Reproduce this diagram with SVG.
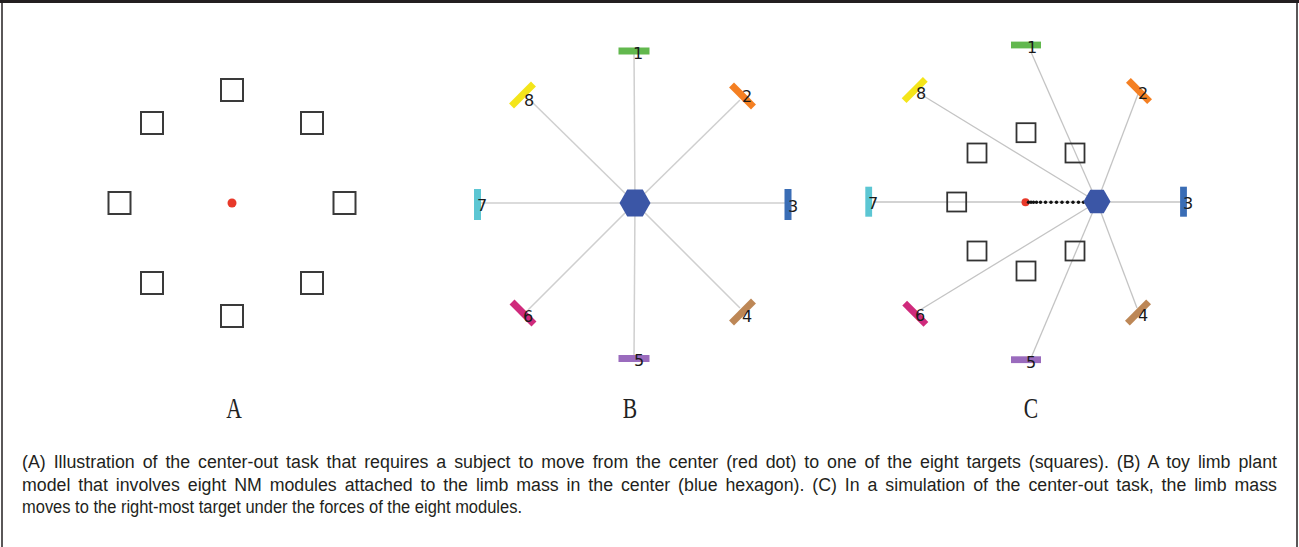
<svg xmlns="http://www.w3.org/2000/svg" width="1299" height="547" viewBox="0 0 1299 547">
<style>
.sq{fill:none;stroke:#3a3a3a;stroke-width:2}
.sqc{fill:none;stroke:#333;stroke-width:1.8}
.ln{stroke:#cfcfcf;stroke-width:1.5;fill:none}
.lnc{stroke:#c4c4c4;stroke-width:1.3;fill:none}
.hex{fill:#3b56a6}
.num{font-family:"DejaVu Sans",sans-serif;font-size:16px;fill:#1a1a1a;text-anchor:middle}
.pl{font-family:"Liberation Serif",serif;font-size:30px;fill:#222;text-anchor:middle}
.cap{font-family:"Liberation Sans Narrow","Liberation Sans",Arial,sans-serif;font-size:18px;fill:#231f20}
.just{word-spacing:3px}
.c1{fill:#62b84e}.c2{fill:#f47f22}.c3{fill:#3a6db5}.c4{fill:#bd8756}
.c5{fill:#9a6bbd}.c6{fill:#cf2a7c}.c7{fill:#5cc6d3}.c8{fill:#f4e51a}
.red{fill:#e8392a}
.dot{fill:#111}
</style>
<defs>
<rect id="bar" x="-15.5" y="-3.5" width="31" height="7"/>
<rect id="barc" x="-15" y="-3.4" width="30" height="6.8"/>
<rect id="sqA" x="-11" y="-11" width="22" height="22"/>
<rect id="sqC" x="-9.5" y="-9.5" width="19" height="19"/>
</defs>

<!-- frame -->
<rect x="0" y="0" width="1299" height="3" fill="#231f20"/>
<line x1="2" y1="0" x2="2" y2="547" stroke="#231f20" stroke-width="1.5"/>
<line x1="1297" y1="0" x2="1297" y2="547" stroke="#231f20" stroke-width="1.5"/>

<!-- Panel A -->
<g id="panelA">
<use href="#sqA" class="sq" x="232" y="90"/>
<use href="#sqA" class="sq" x="312" y="123"/>
<use href="#sqA" class="sq" x="344.5" y="203"/>
<use href="#sqA" class="sq" x="312" y="283"/>
<use href="#sqA" class="sq" x="232" y="316"/>
<use href="#sqA" class="sq" x="152" y="283"/>
<use href="#sqA" class="sq" x="119.5" y="203"/>
<use href="#sqA" class="sq" x="152" y="123"/>
<circle class="red" cx="232" cy="203" r="4.5"/>
</g>

<!-- connectors -->
<g id="connectors">
<line class="ln" x1="635" y1="203" x2="634" y2="53"/>
<line class="ln" x1="635" y1="203" x2="740" y2="100"/>
<line class="ln" x1="635" y1="203" x2="788" y2="203"/>
<line class="ln" x1="635" y1="203" x2="740" y2="308"/>
<line class="ln" x1="635" y1="203" x2="634" y2="357"/>
<line class="ln" x1="635" y1="203" x2="528" y2="310"/>
<line class="ln" x1="635" y1="203" x2="480" y2="203"/>
<line class="ln" x1="635" y1="203" x2="531" y2="101"/>

<line class="lnc" x1="1097" y1="202" x2="1031" y2="52"/>
<line class="lnc" x1="1097" y1="202" x2="1138" y2="94"/>
<line class="lnc" x1="1097" y1="202" x2="1184" y2="202"/>
<line class="lnc" x1="1097" y1="202" x2="1137" y2="308"/>
<line class="lnc" x1="1097" y1="202" x2="1031" y2="358"/>
<line class="lnc" x1="1097" y1="202" x2="920" y2="310"/>
<line class="lnc" x1="1097" y1="202" x2="873" y2="202"/>
<line class="lnc" x1="1097" y1="202" x2="922" y2="95"/>
</g>

<!-- Panel B -->
<g id="B-hex"><polygon class="hex" points="650.5,203 642.75,216.4 627.25,216.4 619.5,203 627.25,189.6 642.75,189.6"/></g>
<g id="B-m1"><use href="#bar" class="c1" transform="translate(634,51)"/><text class="num" x="638" y="59">1</text></g>
<g id="B-m2"><use href="#bar" class="c2" transform="translate(742.5,96) rotate(45)"/><text class="num" x="747" y="102">2</text></g>
<g id="B-m3"><use href="#bar" class="c3" transform="translate(788,204.5) rotate(90)"/><text class="num" x="793" y="212">3</text></g>
<g id="B-m4"><use href="#bar" class="c4" transform="translate(742.5,312) rotate(-45)"/><text class="num" x="747" y="322">4</text></g>
<g id="B-m5"><use href="#bar" class="c5" transform="translate(634,358.5)"/><text class="num" x="639" y="366">5</text></g>
<g id="B-m6"><use href="#bar" class="c6" transform="translate(523,313) rotate(45)"/><text class="num" x="528" y="322">6</text></g>
<g id="B-m7"><use href="#bar" class="c7" transform="translate(477.5,204.5) rotate(90)"/><text class="num" x="482" y="211">7</text></g>
<g id="B-m8"><use href="#bar" class="c8" transform="translate(522.5,95) rotate(-45)"/><text class="num" x="529" y="106">8</text></g>

<!-- Panel C -->
<g id="C-targets">
<use href="#sqC" class="sqc" x="1026" y="132.7"/>
<use href="#sqC" class="sqc" x="977" y="153"/>
<use href="#sqC" class="sqc" x="1075" y="153"/>
<use href="#sqC" class="sqc" x="956.7" y="202"/>
<use href="#sqC" class="sqc" x="977" y="251"/>
<use href="#sqC" class="sqc" x="1075" y="251"/>
<use href="#sqC" class="sqc" x="1026" y="271"/>
</g>
<g id="C-trajectory">
<circle class="red" cx="1025.5" cy="202.3" r="4"/>
<circle class="dot" cx="1028.5" cy="202.3" r="1.7"/>
<circle class="dot" cx="1031" cy="202.3" r="1.7"/>
<circle class="dot" cx="1033.5" cy="202.3" r="1.7"/>
<circle class="dot" cx="1036.5" cy="202.3" r="1.7"/>
<circle class="dot" cx="1040.5" cy="202.3" r="1.7"/>
<circle class="dot" cx="1045.5" cy="202.3" r="1.7"/>
<circle class="dot" cx="1051" cy="202.3" r="1.7"/>
<circle class="dot" cx="1056.5" cy="202.3" r="1.7"/>
<circle class="dot" cx="1062" cy="202.3" r="1.7"/>
<circle class="dot" cx="1067.5" cy="202.3" r="1.7"/>
<circle class="dot" cx="1073" cy="202.3" r="1.7"/>
<circle class="dot" cx="1078.5" cy="202.3" r="1.7"/>
<circle class="dot" cx="1083.5" cy="202.3" r="1.7"/>
</g>
<g id="C-hex"><polygon class="hex" points="1110.5,201.5 1103.75,213.2 1090.25,213.2 1083.5,201.5 1090.25,189.8 1103.75,189.8"/></g>
<g id="C-m1"><use href="#barc" class="c1" transform="translate(1026,45)"/><text class="num" x="1032" y="53">1</text></g>
<g id="C-m2"><use href="#barc" class="c2" transform="translate(1139,91) rotate(45)"/><text class="num" x="1143" y="99">2</text></g>
<g id="C-m3"><use href="#barc" class="c3" transform="translate(1183.5,201.7) rotate(90)"/><text class="num" x="1188" y="209">3</text></g>
<g id="C-m4"><use href="#barc" class="c4" transform="translate(1138,312.5) rotate(-45)"/><text class="num" x="1143" y="321">4</text></g>
<g id="C-m5"><use href="#barc" class="c5" transform="translate(1026,359.7)"/><text class="num" x="1031" y="368">5</text></g>
<g id="C-m6"><use href="#barc" class="c6" transform="translate(915.3,313.7) rotate(45)"/><text class="num" x="920" y="321">6</text></g>
<g id="C-m7"><use href="#barc" class="c7" transform="translate(868.7,201.7) rotate(90)"/><text class="num" x="873" y="209">7</text></g>
<g id="C-m8"><use href="#barc" class="c8" transform="translate(914.7,90) rotate(-45)"/><text class="num" x="921" y="99">8</text></g>

<!-- panel labels -->
<text class="pl" transform="translate(234,418) scale(0.72,1)">A</text>
<text class="pl" transform="translate(630,418) scale(0.72,1)">B</text>
<text class="pl" transform="translate(1031,418) scale(0.72,1)">C</text>

<!-- caption -->
<text class="cap just" x="22" y="468" textLength="1255" lengthAdjust="spacingAndGlyphs">(A) Illustration of the center-out task that requires a subject to move from the center (red dot) to one of the eight targets (squares). (B) A toy limb plant</text>
<text class="cap just" x="22" y="490.5" textLength="1255" lengthAdjust="spacingAndGlyphs">model that involves eight NM modules attached to the limb mass in the center (blue hexagon). (C) In a simulation of the center-out task, the limb mass</text>
<text class="cap" x="22" y="513" textLength="500" lengthAdjust="spacingAndGlyphs">moves to the right-most target under the forces of the eight modules.</text>
</svg>
